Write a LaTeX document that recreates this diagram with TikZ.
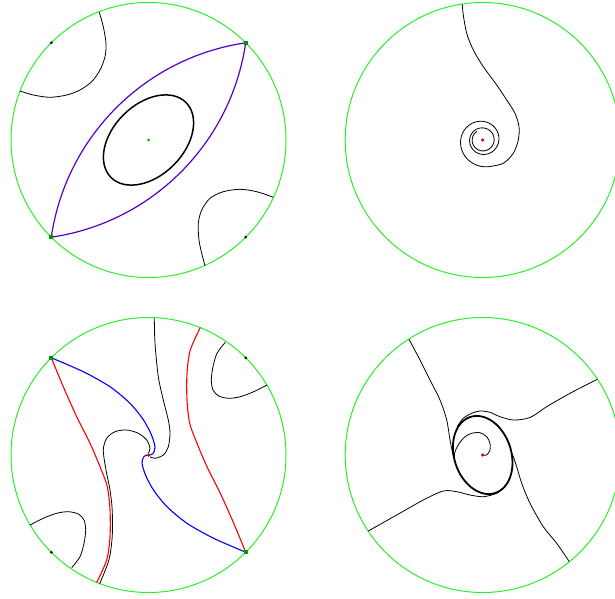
\documentclass[tikz,border=0pt]{standalone}
\definecolor{circ}{RGB}{40,240,40}
\definecolor{sqgreen}{RGB}{0,150,0}
\definecolor{ctrgreen}{RGB}{0,175,0}
\definecolor{lenscol}{RGB}{85,0,200}
\definecolor{dotred}{RGB}{210,0,0}
\begin{document}
\begin{tikzpicture}[x=1pt,y=1pt,
  bnd/.style={draw=circ, line width=1pt},
  curve/.style={draw=black, line width=0.8pt, line join=round},
  boldcurve/.style={draw=black, line width=1.5pt},
  lens/.style={draw=lenscol, line width=1.2pt},
  redc/.style={draw=red, line width=1.1pt},
  bluec/.style={draw=blue, line width=1.1pt},
  sq/.style={rectangle, fill=sqgreen, minimum size=4pt, inner sep=0pt},
  bdot/.style={circle, fill=black, minimum size=3pt, inner sep=0pt},
  rdot/.style={circle, fill=dotred, minimum size=3.5pt, inner sep=0pt},
  gdot/.style={circle, fill=ctrgreen, minimum size=3pt, inner sep=0pt}]
\useasboundingbox (0,0) rectangle (615,598);
\clip (0,0) rectangle (615,598);

% ---------------- top-left panel ----------------
\begin{scope}[shift={(148.5,458)}]
  \draw[bnd] (0,0) circle[radius=137.5];
  \draw[curve] plot[smooth] coordinates {(-49.2,127.7) (-45.2,113.3) (-42.5,96.7) (-43.5,83.3) (-48.5,70) (-56.8,58.3) (-68.5,50) (-81.8,45) (-98.5,42.7) (-115.2,45) (-128.5,49)};
  \draw[curve] plot[smooth] coordinates {(124.8,-57.3) (108.2,-51.7) (91.5,-49.3) (74.8,-51.7) (61.5,-58.3) (53.2,-70) (49.8,-83.3) (50.5,-100) (53.2,-113.3) (56.5,-125.7)};
  \draw[boldcurve, rotate=45] (0,0) ellipse[x radius=53, y radius=35.5];
  \coordinate (tlA) at (-97.2,-97.2);
  \coordinate (tlB) at (97.2,97.2);
  \draw[lens] (tlA) arc[start angle=171.7, end angle=98.3, radius=230];
  \draw[lens] (tlA) arc[start angle=-81.7, end angle=-8.3, radius=230];
  \node[sq] (tlsqA) at (tlA) {};
  \node[sq] (tlsqB) at (tlB) {};
  \node[bdot] (tldotA) at (135:137.5) {};
  \node[bdot] (tldotB) at (-45:137.5) {};
  \node[gdot] (tlc) at (0,0) {};
\end{scope}

% ---------------- top-right panel ----------------
\begin{scope}[shift={(482.7,458)}]
  \draw[bnd] (0,0) circle[radius=137.5];
  \draw[curve] plot[smooth] coordinates {(-20.4,135.7) (-19.4,125) (-16,106.7) (-9.4,90) (0.6,73.3) (14,55) (24,40) (32.3,26.7) (36.3,13.3) (35.6,0) (30.6,-13.3) (20.6,-23.3) (7.12,-26.56)}
    -- plot[domain=0:2.45, samples=200, variable=\s] ({(9.5+18*exp(-1.25*\s))*cos(-75-360*\s)}, {(9.5+18*exp(-1.25*\s))*sin(-75-360*\s)});
  \node[rdot] (trc) at (0,0) {};
\end{scope}

% ---------------- bottom-left panel ----------------
\begin{scope}[shift={(148.5,143)}]
  \draw[bnd] (0,0) circle[radius=137.5];
  % boundary loops
  \draw[curve] plot[smooth] coordinates {(-118.5,-70) (-105.2,-63.3) (-91.8,-58.3) (-80.2,-56.7) (-70.2,-59) (-64.5,-65) (-62.8,-75) (-64.5,-88.3) (-68.5,-101.7) (-76.8,-112.7)};
  \draw[curve] plot[smooth] coordinates {(118.5,70) (105.2,63.3) (91.8,58.3) (80.2,56.7) (70.2,59) (64.5,65) (62.8,75) (64.5,88.3) (68.5,101.7) (76.8,112.7)};
  % black spiralling curves
  \draw[curve] plot[smooth] coordinates {(5.8,136.7) (6.5,111.7) (9.8,78.3) (14.8,55) (19.8,35) (21.5,21.7) (19.8,8.3) (14.8,0) (6.5,-3.3) (1.5,-1.7)};
  \draw[curve] plot[smooth] coordinates {(-48.8,-128.6) (-39.6,-105) (-36.3,-81.7) (-36.3,-55) (-38.5,-35) (-42.5,-15) (-45.2,5) (-41.8,16.7) (-33.5,23.3) (-21.8,25) (-10.2,21.7) (-1.8,15) (1.5,6.7) (-0.2,1.7)};
  % red curves
  \draw[redc] plot[smooth] coordinates {(-97.2,97.2) (-85.2,68.3) (-71.8,38.3) (-58.5,11.7) (-48.5,-11.7) (-41.2,-31.7) (-38.5,-55) (-38.5,-81.7) (-41.8,-105) (-51.8,-127.4)};
  \draw[redc] plot[smooth] coordinates {(97.2,-97.2) (85.2,-68.3) (71.8,-38.3) (58.5,-11.7) (48.5,11.7) (41.2,31.7) (38.5,55) (38.5,81.7) (41.8,105) (51.8,127.4)};
  % blue curves
  \draw[bluec] plot[smooth] coordinates {(-97.2,97.2) (-65.2,83.3) (-38.5,68.3) (-18.5,51.7) (-5,35) (3,20) (6.5,8) (4.5,1.5) (1,0)};
  \draw[bluec] plot[smooth] coordinates {(97.2,-97.2) (65.2,-83.3) (38.5,-68.3) (18.5,-51.7) (5,-35) (-3,-20) (-6.5,-8) (-4.5,-1.5) (-1,0)};
  \node[sq] (blsqA) at (-97.2,97.2) {};
  \node[sq] (blsqB) at (97.2,-97.2) {};
  \node[bdot] (bldotA) at (45:137.5) {};
  \node[bdot] (bldotB) at (225:137.5) {};
  \node[rdot] (blc) at (0,0) {};
\end{scope}

% ---------------- bottom-right panel ----------------
\begin{scope}[shift={(482.7,143)}]
  \draw[bnd] (0,0) circle[radius=137.5];
  \draw[black, line width=1.8pt, rotate=108] (0,0) ellipse[x radius=40, y radius=28.5];
  \draw[curve] plot[smooth] coordinates {(-73.7,115.7) (-62.7,95) (-52.7,75) (-42.7,55) (-36,35) (-32.7,15) (-30,1.7) (-28.8,-2.1)};
  \draw[curve] plot[smooth] coordinates {(114.6,75.7) (87.3,61.7) (64,48.3) (47.3,37.5) (30.6,35) (17.3,38.3) (7.3,42.7) (-2.7,44) (-11,41.7) (-19.4,36.7) (-25.5,28.5)};
  \draw[curve] plot[smooth] coordinates {(-114.4,-76) (-86,-60) (-59.4,-45) (-39.4,-36) (-26,-36.7) (-12.7,-40) (0.6,-41.7) (14,-38.3) (20.9,-32.7)};
  \draw[curve] plot[smooth] coordinates {(86.6,-106.7) (74,-88.3) (60.6,-71.7) (47.3,-48.3) (39,-28.3) (34,-11.7) (30.6,-1.7) (28.85,2.1)};
  \draw[curve] plot[smooth] coordinates {(0,0) (4,0) (7.3,5) (7.3,11.7) (4,18.3) (-2.7,22.3) (-11,21.7) (-17.7,18.3) (-23.4,11.7) (-27.7,3.3) (-28.5,-4)};
  \node[rdot] (brc) at (0,0) {};
\end{scope}
\end{tikzpicture}
\end{document}
